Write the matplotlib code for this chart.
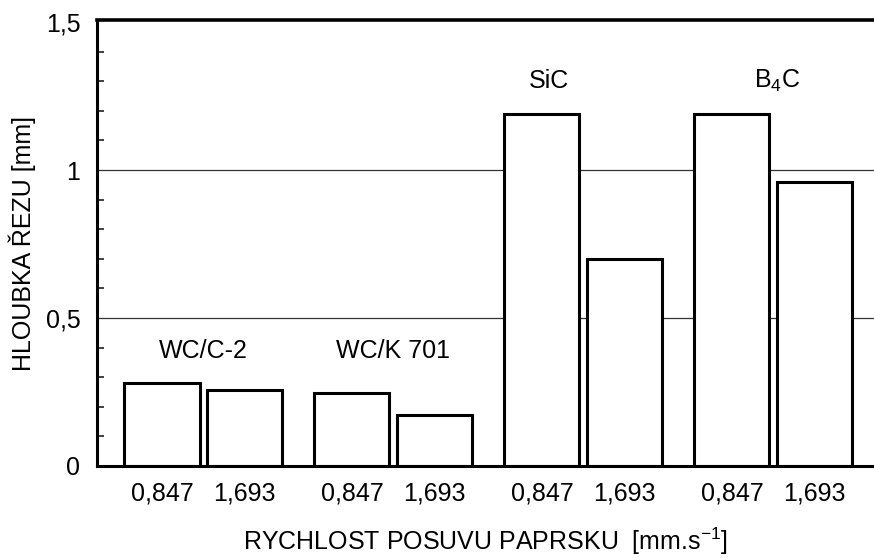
import numpy as np
import matplotlib
matplotlib.use("Agg")
import matplotlib.pyplot as plt
from matplotlib.ticker import MultipleLocator

# data
materials = ["WC/C-2", "WC/K 701", "SiC", "B$_{\\mathregular{4}}$C"]
speeds = ["0,847", "1,693"]
depth_0847 = [0.281, 0.246, 1.19, 1.19]
depth_1693 = [0.257, 0.171, 0.70, 0.96]

plt.rcParams['font.family'] = ['Liberation Sans', 'DejaVu Sans']
fs = 18

fig = plt.figure(figsize=(8.74, 5.58), dpi=100)
ax = fig.add_axes([0.111, 0.165, 0.889, 0.799])

x = np.arange(len(materials))
w = 0.395
off = 0.218

for y in (0.5, 1.0):
    ax.axhline(y, color='#333333', lw=0.9, zorder=1)

ax.bar(x - off, depth_0847, w, color='white', edgecolor='black', lw=2.2, zorder=2)
ax.bar(x + off, depth_1693, w, color='white', edgecolor='black', lw=2.2, zorder=2)

ax.set_xlim(-0.56, 3.53)
ax.set_ylim(0, 1.507)

ax.set_yticks([0, 0.5, 1, 1.5])
ax.set_yticklabels(["0", "0,5", "1", "1,5"], fontsize=fs)
ax.yaxis.set_minor_locator(MultipleLocator(0.1))
ax.tick_params(axis='y', which='major', length=0, pad=12)
ax.tick_params(axis='y', which='minor', direction='in', length=5, width=1.3, color='#333333')

xt = np.concatenate([x - off, x + off])
xl = [speeds[0]] * len(x) + [speeds[1]] * len(x)
ax.set_xticks(xt)
ax.set_xticklabels(xl, fontsize=fs)
ax.tick_params(axis='x', length=0, pad=11)

# group labels
label_pos = [(0.0, 0.39), (0.0, 0.39), (-0.18, 1.30), (0.02, 1.30)]
for i, m in enumerate(materials):
    dx, y = label_pos[i]
    ax.text(x[i] + dx, y, m, ha='center', va='center', fontsize=fs)

ax.set_xlabel("RYCHLOST POSUVU PAPRSKU  [mm.s$^{\\mathregular{-1}}$]", fontsize=fs, labelpad=15)
ax.set_ylabel("HLOUBKA ŘEZU [mm]", fontsize=fs, labelpad=7)

ax.spines['right'].set_visible(False)
ax.spines['left'].set_linewidth(2.2)
ax.spines['bottom'].set_linewidth(2.2)
ax.spines['top'].set_linewidth(2.6)

fig.savefig("out.png", dpi=100)
